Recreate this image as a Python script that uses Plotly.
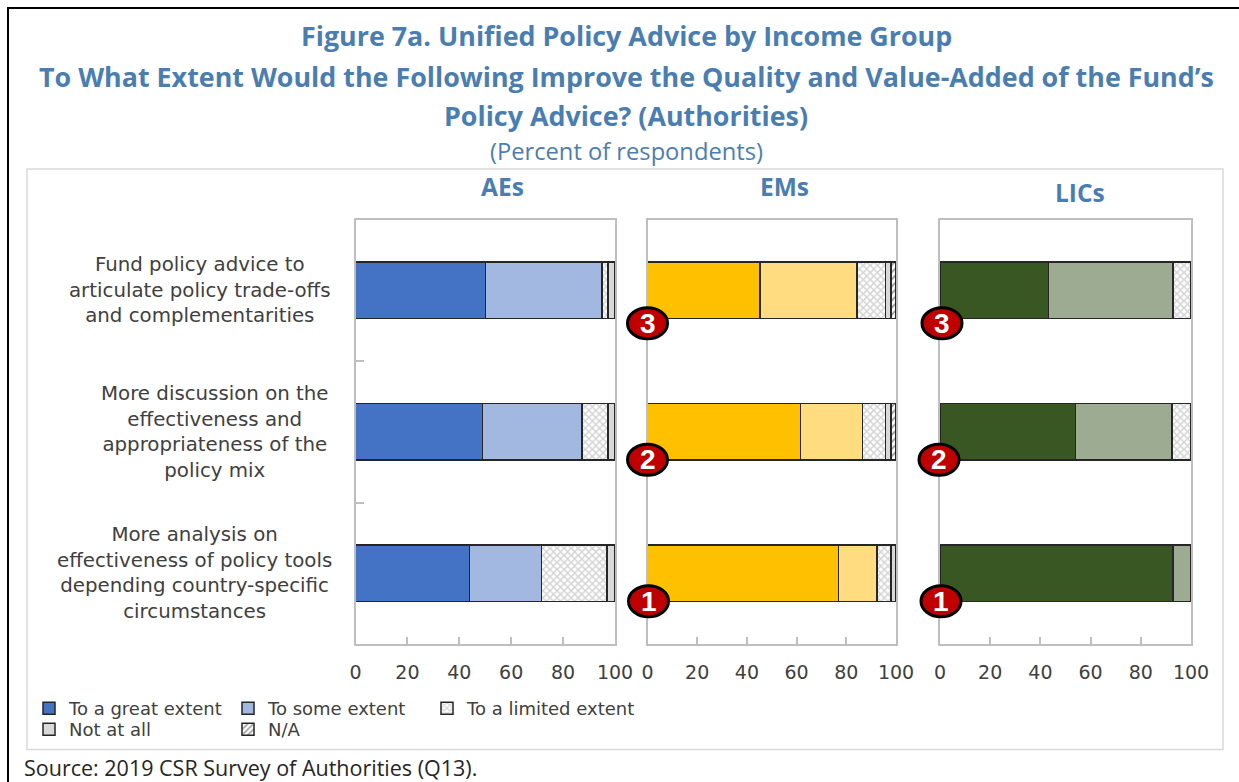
import plotly.graph_objects as go

W, H = 1239, 782
SERIES = ["To a great extent", "To some extent", "To a limited extent", "Not at all", "N/A"]
LEGEND_OF_SERIES = ["legend", "legend", "legend3", "legend2", "legend2"]
CATEGORIES = [
    "Fund policy advice to<br>articulate policy trade-offs<br>and complementarities",
    "More discussion on the<br>effectiveness and<br>appropriateness of the<br>policy mix",
    "More analysis on<br>effectiveness of policy tools<br>depending country-specific<br>circumstances",
]
ROWS = [0, 1, 2]
RANKS = [3, 2, 1]
GROUPS = ["AEs", "EMs", "LICs"]
X_TICKS = [0, 20, 40, 60, 80, 100]

AE_VALUES = [[50, 49, 44], [45, 38.2, 27.6], [2.3, 10.1, 25.4], [2.7, 2.7, 3], [0, 0, 0]]
EM_VALUES = [[45.2, 61.5, 76.9], [39.2, 25.1, 15.4], [11.4, 9.2, 5.7], [2.2, 2.2, 2], [2, 2, 0]]
LIC_VALUES = [[43.2, 53.9, 92.9], [49.7, 38.6, 7.1], [7.1, 7.5, 0], [0, 0, 0], [0, 0, 0]]
VALUES = [AE_VALUES, EM_VALUES, LIC_VALUES]

BLUE = "#4A7EB0"
GRID = "#BFBFBF"
EDGE = "#262626"
TICK_FONT = "DejaVu Sans"
TEXT_FONT = "Open Sans"

SOLID = [["#4472C4", "#A2B8E0"], ["#FFC000", "#FFDC7F"], ["#385723", "#9CAB91"]]
X_DOMAINS_PX = [(355.5, 615), (647.5, 896), (940, 1191)]
Y_DOMAIN_PX = (219.5, 644)
BADGE_SHIFT = [33, 28, 28]
BADGE_X_SHIFT = [[0, 0, 1], [2, -1, 1]]
LABEL_CX = [200, 215, 194]
TITLE_CX = [502, 784, 1080]
TITLE_Y = [187, 187, 192]


def marker(panel, s):
    line = dict(color=EDGE, width=1.5)
    if s < 2:
        return dict(color=SOLID[panel][s], line=line)
    if s == 2:
        return dict(color="white", line=line,
                    pattern=dict(shape="x", size=5, solidity=0.5, fgcolor="#ABABAB", bgcolor="white"))
    if s == 3:
        return dict(color="#D9D9D9", line=line)
    return dict(color="white", line=line,
                pattern=dict(shape="/", size=5, solidity=0.4, fgcolor="#404040", bgcolor="white"))


fig = go.Figure()
for p, panel_values in enumerate(VALUES):
    suffix = "" if p == 0 else str(p + 1)
    for s, name in enumerate(SERIES):
        fig.add_trace(go.Bar(
            x=panel_values[s], y=ROWS, orientation="h", name=name, width=0.4,
            marker=marker(p, s), xaxis="x" + suffix, yaxis="y" + suffix,
            showlegend=p == 0, legend=LEGEND_OF_SERIES[s],
        ))

layout = dict(
    width=W, height=H, barmode="stack", paper_bgcolor="white", plot_bgcolor="white",
    margin=dict(l=0, r=0, t=0, b=0, autoexpand=False), autosize=False,
    font=dict(family=TICK_FONT, color="#262626"),
    hovermode=False,
)
for p in range(3):
    suffix = "" if p == 0 else str(p + 1)
    x0, x1 = X_DOMAINS_PX[p]
    layout["xaxis" + suffix] = dict(
        domain=[x0 / W, x1 / W], range=[0, 100], anchor="y" + suffix,
        tickvals=X_TICKS, ticks="inside", ticklen=7, tickcolor=GRID, tickwidth=1.5,
        showgrid=False, zeroline=False, showline=True, linecolor=GRID, linewidth=2,
        mirror=True, ticklabelstandoff=10, tickfont=dict(family=TICK_FONT, size=19, color="#404040"),
    )
    y_ax = dict(
        domain=[1 - Y_DOMAIN_PX[1] / H, 1 - Y_DOMAIN_PX[0] / H], range=[2.5, -0.5], anchor="x" + suffix,
        showticklabels=False, ticks="", showgrid=False, zeroline=False,
        showline=True, linecolor=GRID, linewidth=2, mirror=True,
    )
    if p == 0:
        y_ax["minor"] = dict(tickvals=[0.5, 1.5], ticks="inside", ticklen=8, tickcolor=GRID, tickwidth=1.5)
    layout["yaxis" + suffix] = y_ax

legend_font = dict(family=TICK_FONT, size=18, color="#404040")
layout["legend"] = dict(orientation="h", x=29 / W, y=1 - 690 / H, xanchor="left", yanchor="top",
                        entrywidth=154, entrywidthmode="pixels", bgcolor="rgba(0,0,0,0)",
                        font=legend_font, itemwidth=30, traceorder="normal")
layout["legend2"] = dict(orientation="h", x=29 / W, y=1 - 711 / H, xanchor="left", yanchor="top",
                         entrywidth=154, entrywidthmode="pixels", bgcolor="rgba(0,0,0,0)",
                         font=legend_font, itemwidth=30, traceorder="normal")
layout["legend3"] = dict(orientation="h", x=427 / W, y=1 - 690 / H, xanchor="left", yanchor="top",
                         bgcolor="rgba(0,0,0,0)", font=legend_font, itemwidth=30, traceorder="normal")

shapes = [
    dict(type="rect", xref="paper", yref="paper", x0=27 / W, x1=1223 / W, y0=1 - 749.5 / H, y1=1 - 169 / H,
         line=dict(color="#D9D9D9", width=1.5), fillcolor="rgba(0,0,0,0)", layer="below"),
    dict(type="line", xref="paper", yref="paper", x0=7 / W, x1=1, y0=1 - 8 / H, y1=1 - 8 / H,
         line=dict(color="#000000", width=2)),
    dict(type="line", xref="paper", yref="paper", x0=8 / W, x1=8 / W, y0=0, y1=1 - 8 / H,
         line=dict(color="#000000", width=2)),
]
annotations = []


def text(x, y, s, size, color=BLUE, family=TEXT_FONT, weight=None, anchor="center"):
    label = f"<b>{s}</b>" if weight else s
    annotations.append(dict(xref="paper", yref="paper", x=x / W, y=1 - y / H, text=label, showarrow=False,
                            xanchor=anchor, yanchor="middle", font=dict(family=family, size=size, color=color)))


text(626, 35, "Figure 7a. Unified Policy Advice by Income Group", 26.85, weight=True)
text(626, 77, "To What Extent Would the Following Improve the Quality and Value-Added of the Fund’s", 26.85, weight=True)
text(626, 115, "Policy Advice? (Authorities)", 26.85, weight=True)
text(626, 151, "(Percent of respondents)", 23.7)
text(22, 767, "Source: 2019 CSR Survey of Authorities (Q13).", 21.5, color="#262626", anchor="left")
for p, group in enumerate(GROUPS):
    text(TITLE_CX[p], TITLE_Y[p], group, 24.5, weight=True)

for r, (cat, cx) in enumerate(zip(CATEGORIES, LABEL_CX)):
    annotations.append(dict(xref="paper", yref="y", x=cx / W, y=ROWS[r], text=cat, showarrow=False,
                            xanchor="center", yanchor="middle", align="center",
                            font=dict(family=TICK_FONT, size=19.8, color="#404040")))

for p in (1, 2):
    suffix = str(p + 1)
    for r, rank in enumerate(RANKS):
        dy = BADGE_SHIFT[r]
        dx = BADGE_X_SHIFT[p - 1][r]
        shapes.append(dict(type="circle", xref=f"x{suffix} domain", yref="y" + suffix,
                           xsizemode="pixel", ysizemode="pixel", xanchor=0, yanchor=ROWS[r],
                           x0=dx - 20, x1=dx + 20, y0=-dy - 15.5, y1=-dy + 15.5,
                           fillcolor="#C00000", line=dict(color="black", width=3), layer="above"))
        annotations.append(dict(xref="x" + suffix, yref="y" + suffix, x=0, y=ROWS[r], xshift=dx, yshift=-dy,
                                text=f"<b>{rank}</b>", showarrow=False, xanchor="center", yanchor="middle",
                                font=dict(family="Liberation Sans", size=28, color="white")))

layout["shapes"] = shapes
layout["annotations"] = annotations
fig.update_layout(**layout)
fig.write_html("out.html", config={"displayModeBar": False},
               post_script="document.body.style.margin='0';document.body.style.overflow='hidden';")
